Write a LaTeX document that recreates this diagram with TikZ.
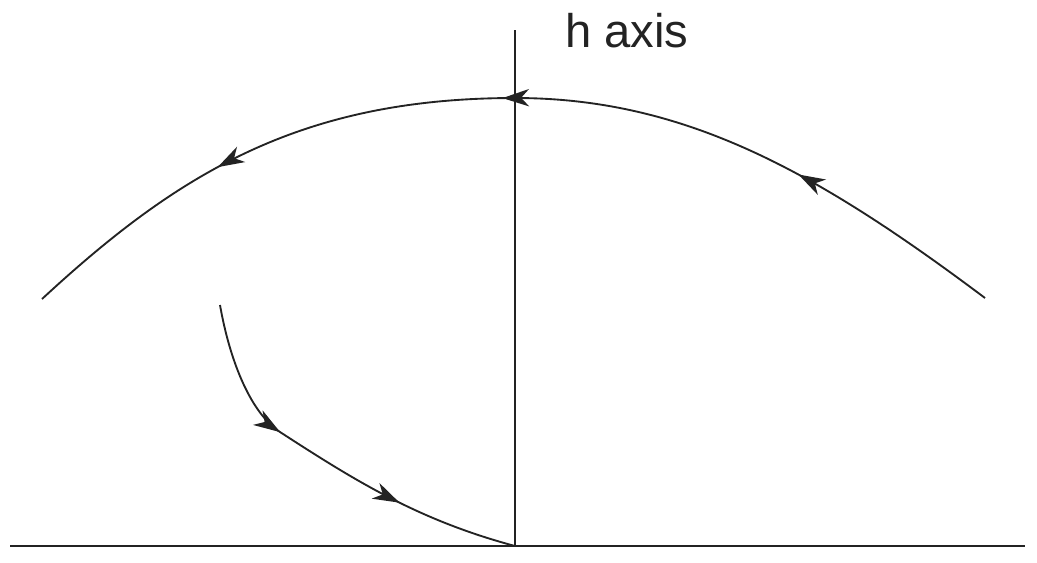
\documentclass[tikz,border=0pt]{standalone}
\usepackage{fontspec}
\setmainfont{Liberation Sans}
\usetikzlibrary{arrows.meta,decorations.markings}
\definecolor{ink}{RGB}{35,35,35}
\tikzset{
  axisline/.style={draw=ink, line width=0.9pt},
  curveline/.style={draw=ink, line width=1.4pt},
  flowtip/.tip={Stealth[length=20pt,width=13pt,inset=6pt]},
}
\begin{document}
\begin{tikzpicture}[x=0.75pt,y=-0.75pt]
\useasboundingbox (0,0) rectangle (1037,562);
% axes
\coordinate (hl) at (10,546);
\coordinate (hr) at (1025,546);
\coordinate (vt) at (515,30);
\coordinate (O) at (515,546);
\draw[axisline] (hl) -- (hr);
\draw[axisline] (vt) -- (O);
\node[anchor=base west, inner sep=0pt, font=\fontsize{35.4pt}{42pt}\selectfont, text=ink] (label) at (565,47) {h axis};
% big arc (right to left)
\coordinate (R) at (985,298);
\coordinate (A) at (515,98);
\coordinate (L) at (42,299);
\draw[curveline,
  postaction={decorate},
  decoration={markings,
    mark=at position 168pt with {\arrow[ink]{flowtip}},
    mark=at position 400pt with {\arrow[ink]{flowtip}},
    mark=at position 622pt with {\arrow[ink]{flowtip}}}]
  (R) .. controls (817,172) and (685,98) .. (A)
      .. controls (300,98) and (177.3,173.8) .. (L);
% lower curve
\coordinate (S) at (220,305);
\coordinate (K) at (280,432);
\draw[curveline,
  postaction={decorate},
  decoration={markings,
    mark=at position 108pt with {\arrow[ink]{flowtip}},
    mark=at position 212pt with {\arrow[ink]{flowtip}}}]
  (S) .. controls (230.4,364.1) and (252,414) .. (K)
      .. controls (355.6,481) and (418.4,520.1) .. (O);
\end{tikzpicture}
\end{document}
